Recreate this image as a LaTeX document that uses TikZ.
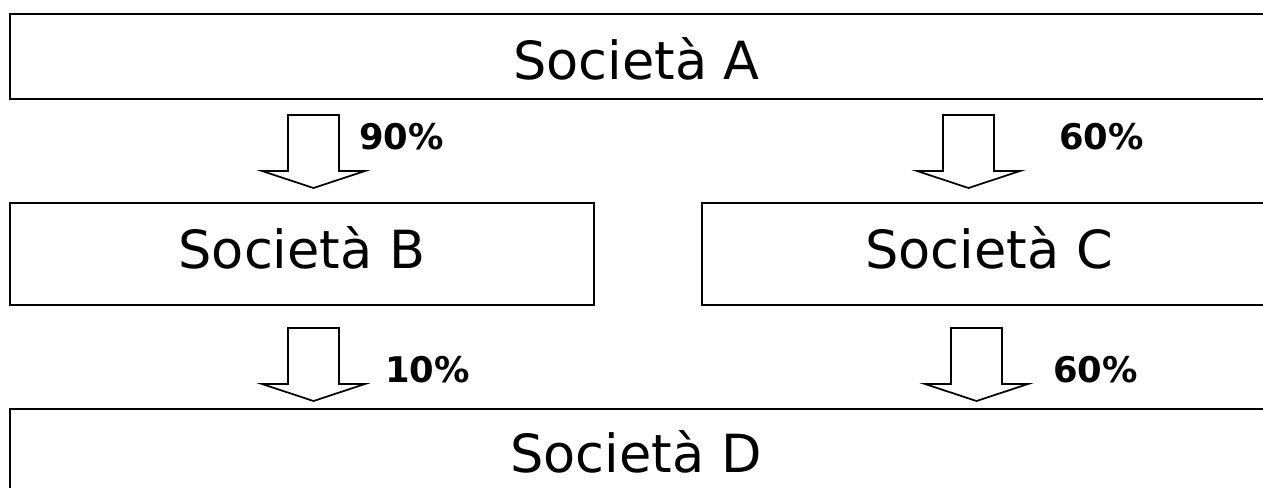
\documentclass[tikz,border=0pt]{standalone}
\usepackage{fontspec}
\setmainfont{DejaVu Sans}
\begin{document}
\begin{tikzpicture}[x=0.75pt,y=-0.75pt,
  box/.style={draw=black, line width=1.5pt, fill=white, rectangle, inner sep=0pt},
  company/.style={font=\fontsize{39.4pt}{44pt}\selectfont, inner sep=0pt, anchor=base},
  pct/.style={font=\fontsize{26.5pt}{30pt}\selectfont\bfseries, inner sep=0pt, anchor=base west},
  downarrow/.pic={
    \draw[line width=1.3pt, line join=miter, fill=white]
      (-25.5,-73) -- (25.5,-73) -- (25.5,-17) -- (51.5,-17) -- (0,0)
      -- (-51.5,-17) -- (-25.5,-17) -- cycle;
  }]
  \useasboundingbox (0,0) rectangle (1263,488);
  \clip (0,0) rectangle (1263,488);

  % company boxes
  \node[box, minimum width={1255*0.75pt}, minimum height={85*0.75pt}] (A) at (637.5,56.5) {};
  \node[box, minimum width={584*0.75pt}, minimum height={102*0.75pt}] (B) at (302,254) {};
  \node[box, minimum width={574*0.75pt}, minimum height={102*0.75pt}] (C) at (989,254) {};
  \node[box, minimum width={1255*0.75pt}, minimum height={131*0.75pt}] (D) at (637.5,474.5) {};

  % company names
  \node[company] (tA) at (636.5,80) {Società A};
  \node[company] (tB) at (302,268) {Società B};
  \node[company] (tC) at (989,268) {Società C};
  \node[company] (tD) at (636,472) {Società D};

  % ownership arrows
  \coordinate (AB) at (313.5,188);
  \coordinate (AC) at (968.5,188);
  \coordinate (BD) at (313.5,401);
  \coordinate (CD) at (976.5,401);
  \pic at (AB) {downarrow};
  \pic at (AC) {downarrow};
  \pic at (BD) {downarrow};
  \pic at (CD) {downarrow};

  % shareholding percentages
  \node[pct] (pAB) at (359,150) {90\%};
  \node[pct] (pAC) at (1059,150) {60\%};
  \node[pct] (pBD) at (385,382) {10\%};
  \node[pct] (pCD) at (1053,382) {60\%};
\end{tikzpicture}
\end{document}
